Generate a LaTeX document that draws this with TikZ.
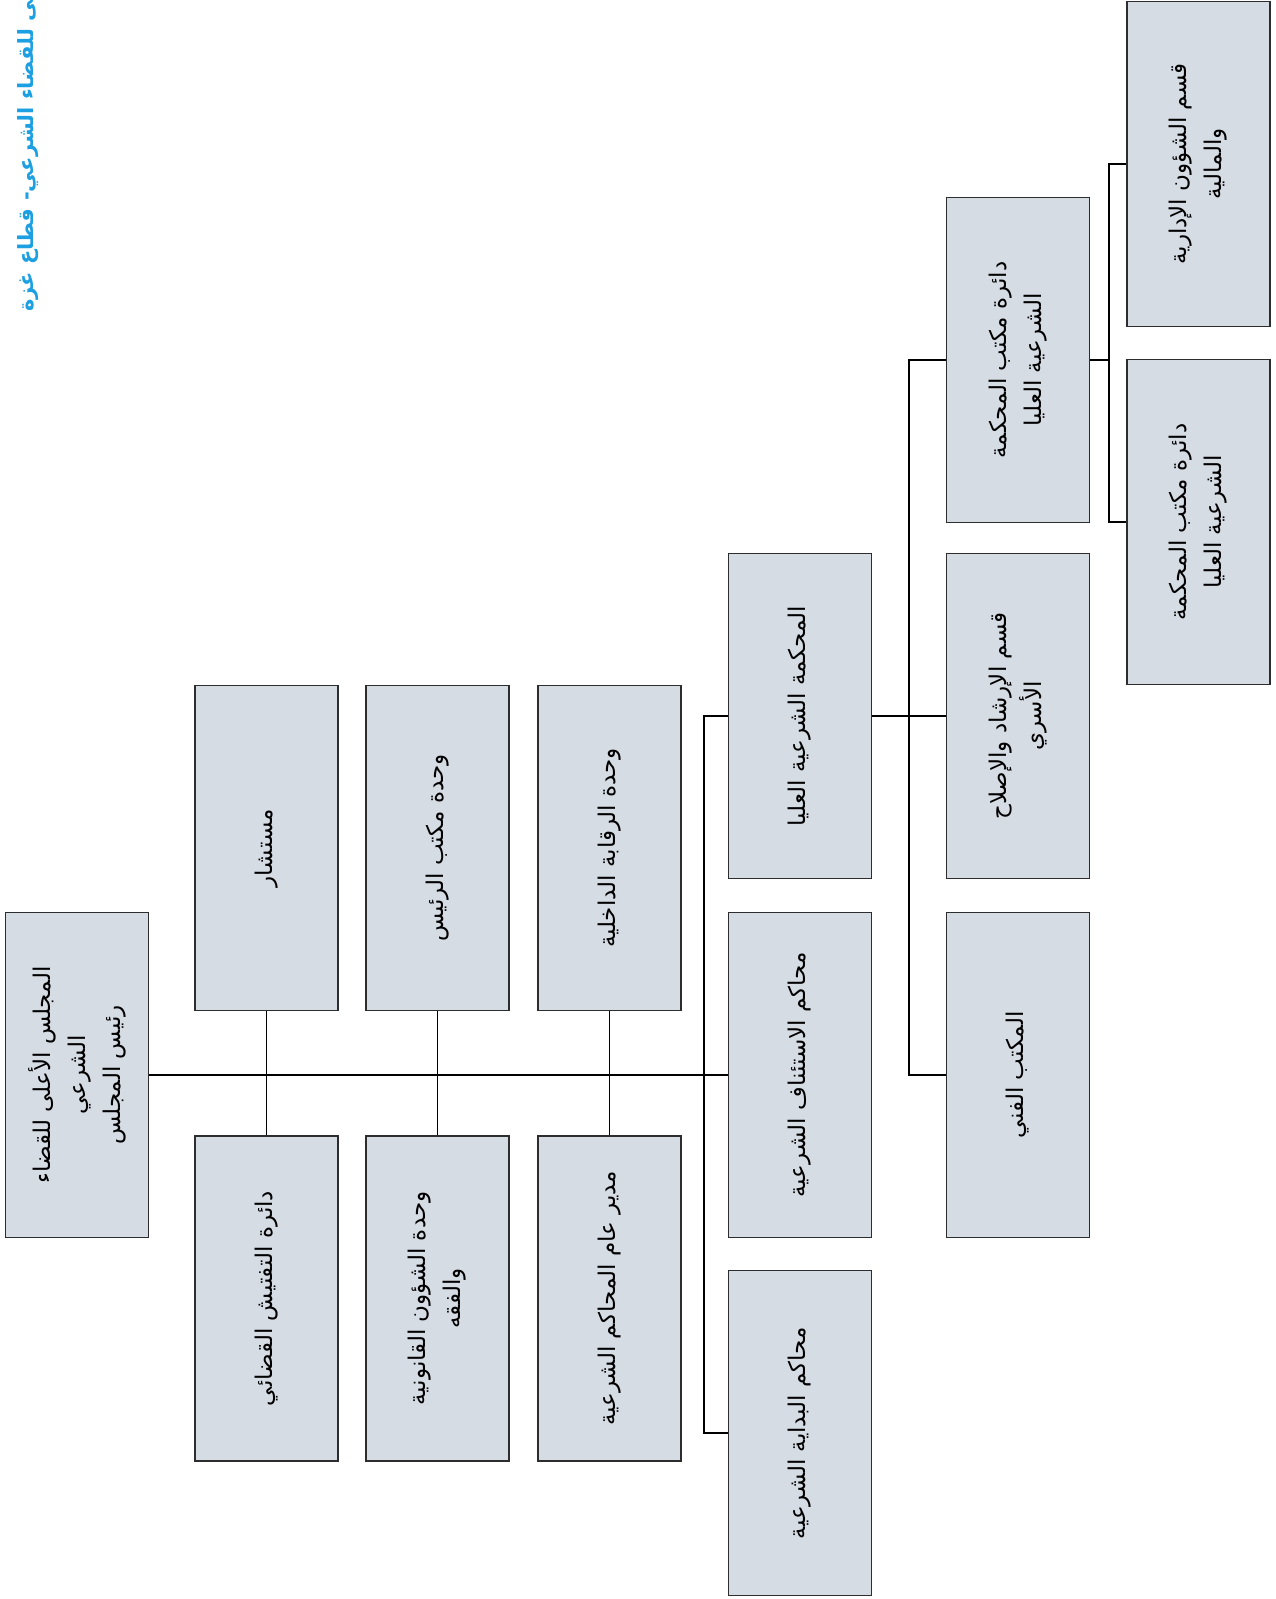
\documentclass[tikz,border=0pt]{standalone}
\usepackage{fontspec}
\TeXXeTstate=1
\newfontfamily\arabicfont[Script=Arabic]{DejaVu Sans}
\usetikzlibrary{calc}
\definecolor{boxfill}{RGB}{214,220,228}
\definecolor{boxline}{RGB}{45,45,45}
\definecolor{titleblue}{RGB}{28,160,226}
\newcommand\ar[1]{\beginR #1\endR}
% one unit of the chart: a box and its turned caption
\newcommand\orgunit[3]{%
  \node[unit] (#1) at (#2) {};
  \node[unittext] (#1-t) at (#1.center) {#3};}
\tikzset{
  unit/.style={draw=boxline, line width=1.4pt, fill=boxfill,
    minimum width=143pt, minimum height=325pt, inner sep=0pt},
  unittext/.style={rotate=90, align=center, inner sep=0pt,
    font=\arabicfont\fontsize{23}{35}\selectfont},
  link/.style={line width=1.2pt, draw=black},
  trunk/.style={line width=2pt, draw=black}
}
\begin{document}
\begin{tikzpicture}[x=1pt,y=-1pt]
\useasboundingbox (0,0) rectangle (1276,1599);
\fill[white] (0,0) rectangle (1276,1599);

% heading, running off the top edge
\node[rotate=90, anchor=west, inner sep=0pt, text=titleblue,
  font=\arabicfont\bfseries\fontsize{21}{26}\selectfont] (title) at (26,312)
  {\ar{الأعلى للقضاء الشرعي- قطاع غزة}};

% council
\orgunit{council}{77,1075}{\ar{المجلس الأعلى للقضاء}\\\ar{الشرعي}\\\ar{رئيس المجلس}}

% units attached to the council line
\orgunit{advisor}{266.5,848}{\ar{مستشار}}
\orgunit{office}{437.5,848}{\ar{وحدة مكتب الرئيس}}
\orgunit{audit}{609.5,848}{\ar{وحدة الرقابة الداخلية}}
\orgunit{inspect}{266.5,1298.5}{\ar{دائرة التفتيش القضائي}}
\orgunit{legal}{437.5,1298.5}{\ar{وحدة الشؤون القانونية}\\\ar{والفقه}}
\orgunit{director}{609.5,1298.5}{\ar{مدير عام المحاكم الشرعية}}

% courts
\orgunit{supreme}{800,716}{\ar{المحكمة الشرعية العليا}}
\orgunit{appeal}{800,1075}{\ar{محاكم الاستئناف الشرعية}}
\orgunit{first}{800,1433}{\ar{محاكم البداية الشرعية}}

% supreme court departments
\orgunit{sdept}{1018,360}{\ar{دائرة مكتب المحكمة}\\\ar{الشرعية العليا}}
\orgunit{family}{1018,716}{\ar{قسم الإرشاد والإصلاح}\\\ar{الأسري}}
\orgunit{tech}{1018,1075}{\ar{المكتب الفني}}

% sections of the supreme court office
\orgunit{admin}{1198.5,164}{\ar{قسم الشؤون الإدارية}\\\ar{والمالية}}
\orgunit{sdept2}{1198.5,522}{\ar{دائرة مكتب المحكمة}\\\ar{الشرعية العليا}}

% junction points
\coordinate (j4) at (704,1075);
\coordinate (j5) at (909,716);
\coordinate (j6) at (1109,360);

% connectors
\draw[trunk] (council.east) -- (j4);
\draw[link] (j4) -- (appeal.west);
\draw[link] (advisor.south) -- (inspect.north);
\draw[link] (office.south) -- (legal.north);
\draw[link] (audit.south) -- (director.north);
\draw[link] (supreme.west) -| (j4);
\draw[link] (first.west) -| (j4);
\draw[link] (supreme.east) -- (family.west);
\draw[link] (sdept.west) -| (j5);
\draw[link] (tech.west) -| (j5);
\draw[link] (sdept.east) -- (j6);
\draw[link] (admin.west) -| (j6);
\draw[link] (sdept2.west) -| (j6);
\end{tikzpicture}
\end{document}
